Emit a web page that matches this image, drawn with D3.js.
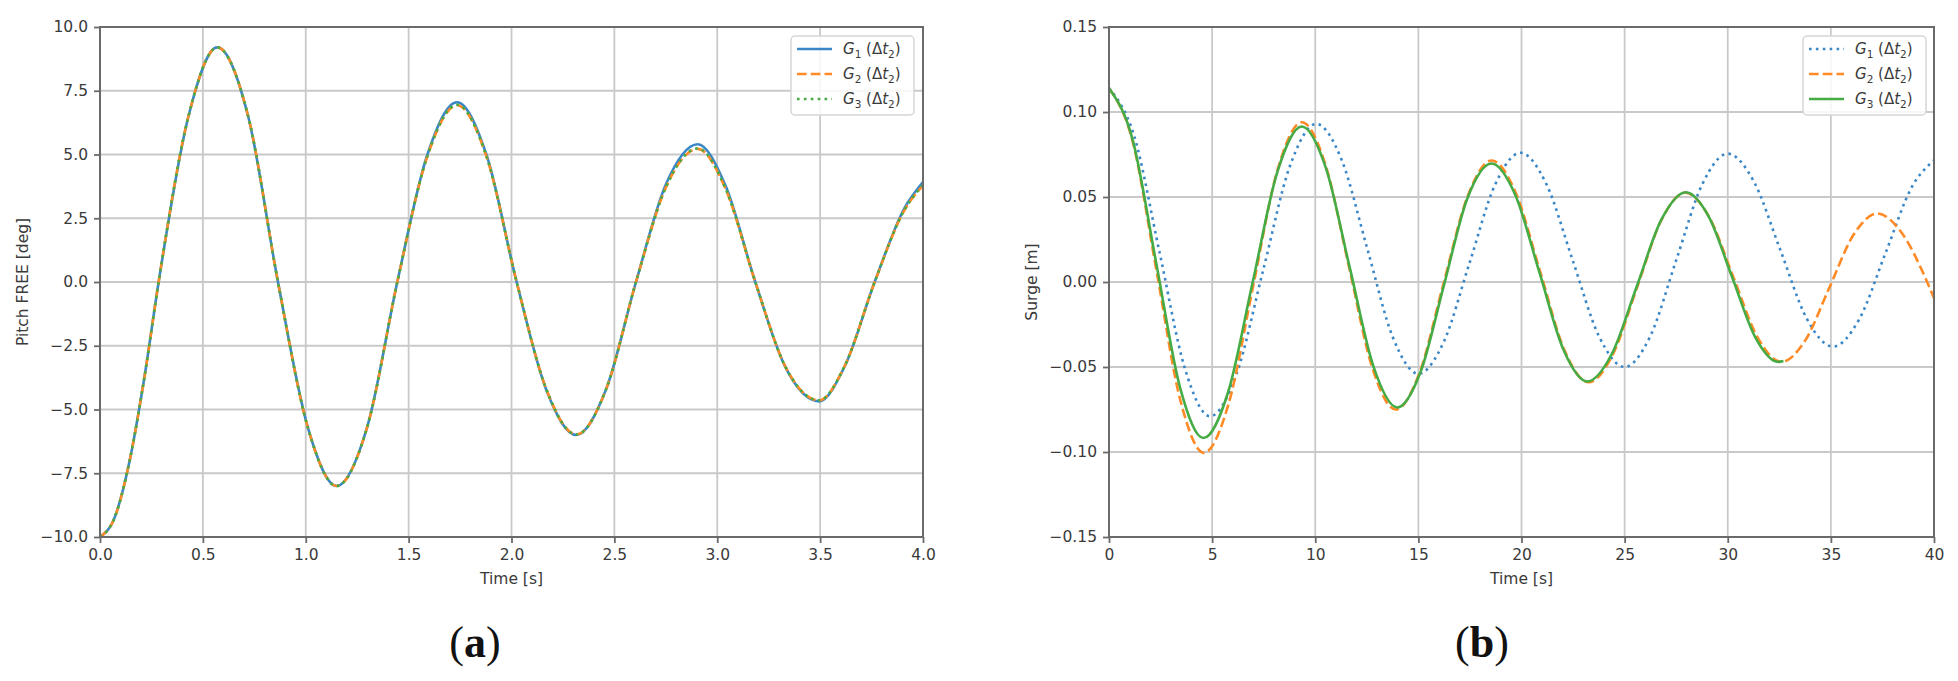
<!DOCTYPE html>
<html><head><meta charset="utf-8">
<script src="https://cdn.jsdelivr.net/npm/d3@7"></script>
<style>body{margin:0;background:#fff}</style>
</head><body>
<svg id="c" width="1958" height="681" xmlns="http://www.w3.org/2000/svg"></svg>
<script>
// ---------- Panel (a): Pitch FREE ----------
const pitchTime = [0, 0.071, 0.1425, 0.214, 0.285, 0.43, 0.57, 0.72, 0.865, 1.01, 1.15, 1.30, 1.445, 1.59, 1.735, 1.88, 2.025, 2.17, 2.315, 2.46, 2.605, 2.75, 2.905, 3.04, 3.185, 3.33, 3.495, 3.62, 3.765, 3.91, 4.0];
const pitchG1 = [-10, -9.24, -7.07, -3.83, 0, 6.5, 9.2, 6.5, 0, -5.7, -8.0, -5.65, 0, 4.97, 7.05, 4.95, 0, -4.25, -6.0, -4.2, 0, 3.82, 5.4, 3.78, 0, -3.32, -4.68, -3.3, 0, 2.9, 3.92];
const pitchG2 = [-10, -9.24, -7.07, -3.83, 0, 6.5, 9.2, 6.5, 0, -5.7, -8.0, -5.65, 0, 4.9, 6.93, 4.88, 0, -4.22, -5.98, -4.2, 0, 3.7, 5.22, 3.66, 0, -3.3, -4.64, -3.28, 0, 2.82, 3.78];
const pitchG3 = [-10, -9.24, -7.07, -3.83, 0, 6.5, 9.2, 6.5, 0, -5.7, -8.0, -5.65, 0, 4.91, 6.95, 4.89, 0, -4.22, -5.98, -4.2, 0, 3.71, 5.24, 3.67, 0, -3.3, -4.64, -3.28, 0, 2.83, 3.8];
const pitchXTicks = [0, 0.5, 1.0, 1.5, 2.0, 2.5, 3.0, 3.5, 4.0];
const pitchYTicks = [-10, -7.5, -5, -2.5, 0, 2.5, 5, 7.5, 10];

// ---------- Panel (b): Surge ----------
const surgeTime1 = [0, 1.225, 2.45, 3.675, 4.9, 6.19, 7.475, 8.76, 10.05, 11.29, 12.525, 13.76, 15.0, 16.24, 17.475, 18.71, 19.95, 21.21, 22.475, 23.74, 25.0, 26.25, 27.5, 28.75, 30.0, 31.275, 32.55, 33.825, 35.1, 36.375, 37.65, 38.925, 40.0];
const surgeG1 = [0.114, 0.0857, 0.0175, -0.0507, -0.079, -0.0538, 0.007, 0.0678, 0.093, 0.0715, 0.0195, -0.0325, -0.054, -0.035, 0.011, 0.057, 0.076, 0.0575, 0.013, -0.0315, -0.050, -0.0317, 0.0128, 0.0571, 0.0755, 0.0589, 0.0188, -0.0214, -0.038, -0.0219, 0.017, 0.0559, 0.0716];
const surgeTime2 = [0, 1.15, 2.3, 3.45, 4.6, 5.79, 6.975, 8.16, 9.35, 10.49, 11.625, 12.76, 13.9, 15.05, 16.2, 17.375, 18.55, 19.725, 20.9, 22.075, 23.25, 24.425, 25.6, 26.775, 27.95, 29.11, 30.275, 31.44, 32.6, 33.76, 34.925, 36.09, 37.25, 38.44, 39.625, 40.0];
const surgeG2 = [0.114, 0.0826, 0.0068, -0.0691, -0.1005, -0.0720, -0.0033, 0.0655, 0.094, 0.0692, 0.0095, -0.0502, -0.075, -0.0536, -0.0018, 0.0500, 0.0715, 0.0524, 0.0063, -0.0399, -0.059, -0.0427, -0.0033, 0.0362, 0.0525, 0.0380, 0.0028, -0.0324, -0.047, -0.0343, -0.0034, 0.0276, 0.0403, 0.0288, 0.0012, -0.0095];
const surgeTime3 = [0, 1.145, 2.29, 3.435, 4.58, 5.77, 6.965, 8.16, 9.35, 10.51, 11.665, 12.82, 13.98, 15.11, 16.235, 17.36, 18.55, 19.71, 20.87, 22.03, 23.19, 24.385, 25.58, 26.775, 27.97, 29.09, 30.21, 31.33, 32.45, 32.7];
const surgeG3 = [0.114, 0.0838, 0.0111, -0.0616, -0.0918, -0.0650, -0.0002, 0.0646, 0.0915, 0.0673, 0.0089, -0.0496, -0.0738, -0.0528, -0.0021, 0.0487, 0.0697, 0.0509, 0.0056, -0.0397, -0.0585, -0.0422, -0.0029, 0.0365, 0.0528, 0.0382, 0.0029, -0.0324, -0.047, -0.0465];
const surgeXTicks = [0, 5, 10, 15, 20, 25, 30, 35, 40];
const surgeYTicks = [-0.15, -0.10, -0.05, 0, 0.05, 0.10, 0.15];

const legendNames = ["1", "2", "3"];

// ---------- styling ----------
const COL = {blue: '#3a87c8', orange: '#ff8a26', green: '#45ab45'};
const LW = 2.6;
const DASH = {solid: null, dashed: (3.7*LW)+','+(1.6*LW), dotted: (1*LW)+','+(1.65*LW)};
const FONT = 'DejaVu Sans, Verdana, sans-serif';
const svg = d3.select('#c');
svg.append('rect').attr('width',1958).attr('height',681).attr('fill','#fff');

function zip(t, v){ return t.map((d,i)=>[d, v[i]]); }

function panel(cfg){
  const x = d3.scaleLinear().domain(cfg.xDomain).range([cfg.left, cfg.right]);
  const y = d3.scaleLinear().domain(cfg.yDomain).range([cfg.bottom, cfg.top]);
  const g = svg.append('g');
  const id = 'clip'+cfg.name;
  svg.append('defs').append('clipPath').attr('id', id).append('rect')
    .attr('x', cfg.left).attr('y', cfg.top).attr('width', cfg.right-cfg.left).attr('height', cfg.bottom-cfg.top);

  // grid
  g.append('g').selectAll('line').data(cfg.xTicks).join('line')
    .attr('x1', d=>x(d)).attr('x2', d=>x(d)).attr('y1', cfg.top).attr('y2', cfg.bottom)
    .attr('stroke', '#c9c9c9').attr('stroke-width', 1.8);
  g.append('g').selectAll('line').data(cfg.yTicks).join('line')
    .attr('y1', d=>y(d)).attr('y2', d=>y(d)).attr('x1', cfg.left).attr('x2', cfg.right)
    .attr('stroke', '#c9c9c9').attr('stroke-width', 1.8);

  // lines
  const line = d3.line().x(d=>x(d[0])).y(d=>y(d[1])).curve(d3.curveMonotoneX);
  const lg = g.append('g').attr('clip-path', 'url(#'+id+')');
  cfg.series.forEach(s=>{
    lg.append('path').datum(zip(s.t, s.v)).attr('d', line)
      .attr('fill','none').attr('stroke', s.color).attr('stroke-width', LW)
      .attr('stroke-dasharray', DASH[s.style]).attr('stroke-linejoin','round');
  });

  // frame
  g.append('rect').attr('x', cfg.left).attr('y', cfg.top)
    .attr('width', cfg.right-cfg.left).attr('height', cfg.bottom-cfg.top)
    .attr('fill','none').attr('stroke','#6a6a6a').attr('stroke-width',2);

  // axes
  const ax = g.append('g').attr('transform', `translate(0,${cfg.bottom})`)
    .call(d3.axisBottom(x).tickValues(cfg.xTicks).tickFormat(cfg.xFmt).tickSize(6).tickPadding(6));
  const ay = g.append('g').attr('transform', `translate(${cfg.left},0)`)
    .call(d3.axisLeft(y).tickValues(cfg.yTicks).tickFormat(cfg.yFmt).tickSize(6).tickPadding(6));
  [ax, ay].forEach(a=>{
    a.select('.domain').remove();
    a.selectAll('.tick line').attr('stroke','#6a6a6a').attr('stroke-width',1.8);
    a.selectAll('.tick text').attr('fill','#3a3a3a').style('font-family', FONT).style('font-size','15.5px');
  });

  // axis titles
  g.append('text').attr('x', (cfg.left+cfg.right)/2).attr('y', 584)
    .attr('text-anchor','middle').attr('fill','#3a3a3a')
    .style('font-family', FONT).style('font-size','15.5px').text('Time [s]');
  g.append('text').attr('transform', `translate(${cfg.yLabelX},${(cfg.top+cfg.bottom)/2}) rotate(-90)`)
    .attr('text-anchor','middle').attr('dy','0.35em').attr('fill','#3a3a3a')
    .style('font-family', FONT).style('font-size','15.5px').text(cfg.yLabel);

  // legend
  const L = g.append('g').attr('transform', `translate(${cfg.legendX},36)`);
  L.append('rect').attr('width',123).attr('height',79).attr('rx',4)
    .attr('fill','#fff').attr('fill-opacity',0.85).attr('stroke','#d6d6d6').attr('stroke-width',1.5);
  cfg.series.forEach((s,i)=>{
    const yy = 13 + i*25;
    L.append('line').attr('x1',6).attr('x2',41).attr('y1',yy).attr('y2',yy)
      .attr('stroke', s.color).attr('stroke-width', LW).attr('stroke-dasharray', DASH[s.style]);
    const t = L.append('text').attr('x',52).attr('y',yy+5).attr('fill','#3a3a3a')
      .style('font-family', FONT).style('font-size','15px');
    t.append('tspan').style('font-style','italic').text('G');
    t.append('tspan').attr('dy',4).style('font-size','10.5px').text(legendNames[i]);
    t.append('tspan').attr('dy',-4).text(' (Δ');
    t.append('tspan').style('font-style','italic').text('t');
    t.append('tspan').attr('dy',4).style('font-size','10.5px').text('2');
    t.append('tspan').attr('dy',-4).text(')');
  });

  // panel label
  const pl = svg.append('text').attr('x', cfg.labelX).attr('y', 657).attr('text-anchor','middle')
    .attr('fill','#111').style('font-family','Liberation Serif, Times New Roman, serif').style('font-size','44px');
  pl.append('tspan').text('(');
  pl.append('tspan').style('font-weight','bold').text(cfg.label);
  pl.append('tspan').text(')');
}

panel({
  name:'a', left:100, right:923, top:27, bottom:537,
  xDomain:[0,4], yDomain:[-10,10], xTicks:pitchXTicks, yTicks:pitchYTicks,
  xFmt:d3.format('.1f'), yFmt:d3.format('.1f'),
  yLabel:'Pitch FREE [deg]', yLabelX:23, legendX:791, label:'a', labelX:475,
  series:[
    {t:pitchTime, v:pitchG1, color:COL.blue, style:'solid'},
    {t:pitchTime, v:pitchG2, color:COL.orange, style:'dashed'},
    {t:pitchTime, v:pitchG3, color:COL.green, style:'dotted'}
  ]
});
panel({
  name:'b', left:1109, right:1934, top:27, bottom:537,
  xDomain:[0,40], yDomain:[-0.15,0.15], xTicks:surgeXTicks, yTicks:surgeYTicks,
  xFmt:d3.format('d'), yFmt:d3.format('.2f'),
  yLabel:'Surge [m]', yLabelX:1032, legendX:1803, label:'b', labelX:1482,
  series:[
    {t:surgeTime1, v:surgeG1, color:COL.blue, style:'dotted'},
    {t:surgeTime2, v:surgeG2, color:COL.orange, style:'dashed'},
    {t:surgeTime3, v:surgeG3, color:COL.green, style:'solid'}
  ]
});
</script>
</body></html>
